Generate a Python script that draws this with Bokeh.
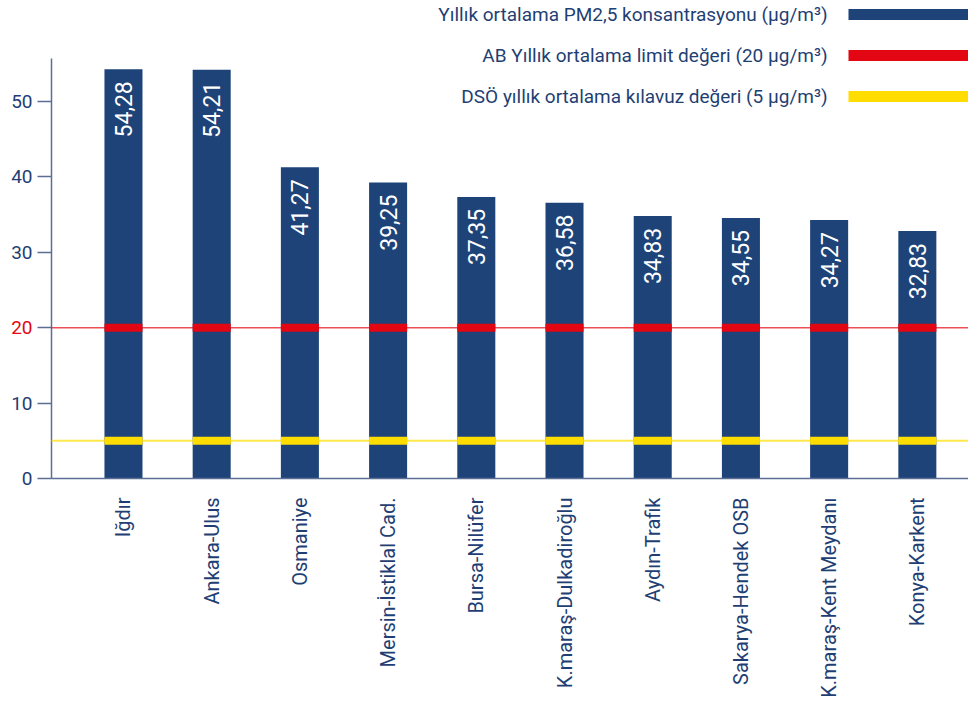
import math
from bokeh.plotting import figure
from bokeh.models import FixedTicker, Label, Arrow
from bokeh.core.properties import value
from bokeh.embed import file_html
from bokeh.resources import INLINE

# ---------------- data ----------------
stations = ["Iğdır", "Ankara-Ulus", "Osmaniye", "Mersin-İstiklal Cad.", "Bursa-Nilüfer",
            "K.maraş-Dulkadiroğlu", "Aydın-Trafik", "Sakarya-Hendek OSB",
            "K.maraş-Kent Meydanı", "Konya-Karkent"]
pm25 = [54.28, 54.21, 41.27, 39.25, 37.35, 36.58, 34.83, 34.55, 34.27, 32.83]
eu_limit = 20
who_guideline = 5
y_ticks = [0, 10, 20, 30, 40, 50]
legend_labels = ["Yıllık ortalama PM2,5 konsantrasyonu (µg/m³)",
                 "AB Yıllık ortalama limit değeri (20 µg/m³)",
                 "DSÖ yıllık ortalama kılavuz değeri (5 µg/m³)"]

# ---------------- style ----------------
FONT = "Roboto"
BAR = "#1D4379"
RED = "#E30613"
YELLOW = "#FFDD00"
TXT = "#1F3F74"
AXIS = "#5B6E94"

W, H = 968, 720
LEFT, BOTTOM = 51, 242
FRAME_W, FRAME_H = W - LEFT, H - BOTTOM
X0, X1 = -0.816, 9.58
PX_PER_UNIT_Y = 7.54
Y1 = FRAME_H / PX_PER_UNIT_Y

def dx(sx):
    return X0 + (sx - LEFT) / FRAME_W * (X1 - X0)

def dy(sy):
    return (FRAME_H - sy) / FRAME_H * Y1

idx = list(range(len(stations)))
bar_w = 0.431

p = figure(width=W, height=H, x_range=(X0, X1), y_range=(0, Y1),
           output_backend="svg", toolbar_location=None,
           min_border_left=LEFT, min_border_right=0, min_border_top=0,
           min_border_bottom=BOTTOM)
p.outline_line_color = None
p.grid.visible = False
p.background_fill_color = "white"
p.border_fill_color = "white"

# bars
p.vbar(x=idx, top=pm25, bottom=0, width=bar_w, fill_color=BAR, line_color=None)
# bands on bars
p.rect(x=idx, y=[eu_limit] * len(idx), width=bar_w, height=8, height_units="screen",
       fill_color=RED, line_color=None)
p.rect(x=idx, y=[who_guideline] * len(idx), width=bar_w, height=8, height_units="screen",
       fill_color=YELLOW, line_color=None)

# value labels
p.text(x=idx, y=pm25, text=[f"{v:.2f}".replace(".", ",") for v in pm25],
       angle=math.pi / 2, text_align="right", text_baseline="middle",
       y_offset=12, text_color="white", text_font=value(FONT), text_font_size="23px")

# thin reference lines (extend to tick area)
for val, col, lw in [(eu_limit, RED, 1.5), (who_guideline, YELLOW, 2)]:
    p.add_layout(Arrow(x_start=X0 - 14 / FRAME_W * (X1 - X0), y_start=val,
                       x_end=X1, y_end=val, start=None, end=None,
                       line_color=col, line_width=lw, line_alpha=0.7, level="overlay"))

# axes
yax = p.yaxis[0]
yax.ticker = FixedTicker(ticks=y_ticks)
yax.bounds = (0, 55.7)
yax.major_tick_out = 14
yax.major_tick_in = 0
yax.minor_tick_line_color = None
yax.axis_line_color = AXIS
yax.axis_line_width = 1.5
yax.major_tick_line_color = AXIS
yax.major_tick_line_width = 1.5
yax.major_label_standoff = 5
yax.major_label_text_font = FONT
yax.major_label_text_font_size = "19px"
yax.major_label_text_color = TXT
yax.major_label_overrides = {eu_limit: ""}

xax = p.xaxis[0]
xax.ticker = FixedTicker(ticks=idx)
xax.major_label_overrides = {i: s for i, s in zip(idx, stations)}
xax.major_label_orientation = math.pi / 2
xax.major_tick_line_color = None
xax.minor_tick_line_color = None
xax.axis_line_color = AXIS
xax.axis_line_width = 1.5
xax.major_label_standoff = 13
xax.major_label_text_font = FONT
xax.major_label_text_font_size = "20px"
xax.major_label_text_color = TXT

# red "20" tick label, held in the bottom side panel (not clipped to the frame)
p.add_layout(Label(x=-19, y=eu_limit, x_units="screen", y_units="data",
                   text=str(eu_limit), text_align="right", text_baseline="middle",
                   text_color=RED, text_font=FONT, text_font_size="19px"), "below")

# legend (custom: label on the left, line on the right)
legend_cols = [BAR, RED, YELLOW]
legend_sy = [14, 55, 96]
p.text(x=[dx(827)] * 3, y=[dy(s) for s in legend_sy], text=legend_labels,
       text_align="right", text_baseline="middle", text_color=TXT,
       text_font=value(FONT), text_font_size="19px")
p.segment(x0=[dx(848)] * 3, y0=[dy(s) for s in legend_sy],
          x1=[X1 + 1] * 3, y1=[dy(s) for s in legend_sy],
          line_color=legend_cols, line_width=11, line_cap="butt")

open("out.html", "w").write(file_html(p, INLINE))
